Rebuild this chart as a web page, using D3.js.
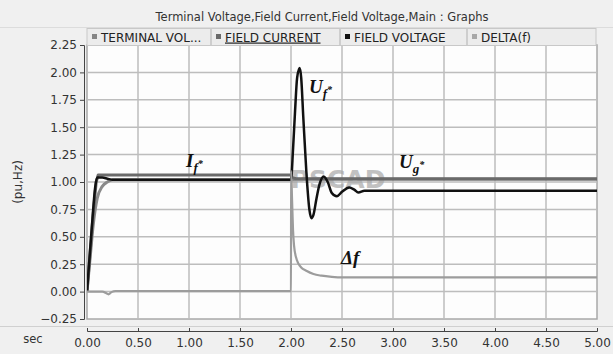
<!DOCTYPE html>
<html><head><meta charset="utf-8">
<script src="https://cdn.jsdelivr.net/npm/d3@7"></script>
<style>body{margin:0;background:#f0f0f0;}svg{display:block;}</style>
</head><body>
<script>
// ---- data ----
const title = "Terminal Voltage,Field Current,Field Voltage,Main : Graphs";
const legendNames = ["TERMINAL VOL...", "FIELD CURRENT", "FIELD VOLTAGE", "DELTA(f)"];
const xTicks = [0,0.5,1,1.5,2,2.5,3,3.5,4,4.5,5];
const yTicks = [-0.25,0,0.25,0.5,0.75,1,1.25,1.5,1.75,2,2.25];

const termT = [0, 0.03, 0.06, 0.1, 0.15, 0.2, 0.25, 2.0, 2.05, 5.0];
const termV = [0, 0.3, 0.6, 0.85, 0.96, 1.0, 1.02, 1.02, 1.025, 1.025];

const curT = [0, 0.03, 0.06, 0.09, 0.11, 2.0, 2.01, 2.05, 5.0];
const curV = [0, 0.35, 0.7, 1.0, 1.065, 1.065, 1.04, 1.03, 1.03];

const fvT = [0, 0.02, 0.05, 0.08, 0.1, 0.15, 0.2, 0.25, 2.0, 2.02, 2.04, 2.06, 2.085, 2.1, 2.12, 2.15, 2.18, 2.2, 2.22, 2.25, 2.28, 2.32, 2.36, 2.4, 2.45, 2.5, 2.57, 2.62, 2.66, 2.72, 2.8, 3.0, 5.0];
const fvV = [0, 0.25, 0.62, 0.95, 1.04, 1.04, 1.03, 1.02, 1.02, 1.3, 1.65, 1.95, 2.04, 1.95, 1.6, 1.1, 0.75, 0.67, 0.7, 0.85, 0.98, 1.05, 1.0, 0.9, 0.87, 0.91, 0.95, 0.93, 0.905, 0.92, 0.92, 0.92, 0.92];

const dfT = [0, 0.15, 0.19, 0.21, 0.24, 0.28, 2.0, 2.001, 2.01, 2.02, 2.03, 2.05, 2.07, 2.1, 2.15, 2.22, 2.3, 2.4, 2.5, 5.0];
const dfV = [0, 0, -0.015, -0.025, -0.005, 0.005, 0.005, 1.1, 0.85, 0.56, 0.42, 0.31, 0.26, 0.22, 0.19, 0.16, 0.145, 0.135, 0.13, 0.13];

// ---- layout ----
const W = 613, H = 354;
const svg = d3.select("body").append("svg").attr("width", W).attr("height", H);
const x = d3.scaleLinear().domain([0,5]).range([87,597]);
const y = d3.scaleLinear().domain([-0.25,2.25]).range([319,45]);
const font = "DejaVu Sans, Verdana, sans-serif";

svg.append("rect").attr("width",W).attr("height",H).attr("fill","#f0f0f0");

// title
svg.append("text").attr("x",322).attr("y",21).attr("text-anchor","middle")
  .attr("font-family",font).attr("font-size",11.5).attr("fill","#333").text(title);
svg.append("line").attr("x1",0).attr("x2",W).attr("y1",27.5).attr("y2",27.5).attr("stroke","#dcdcdc");

// plot background
svg.append("rect").attr("x",x(0)).attr("y",y(2.25)).attr("width",x(5)-x(0)).attr("height",y(-0.25)-y(2.25))
  .attr("fill","#fdfdfd").attr("stroke","#a8a8a8").attr("stroke-width",1.5);

// grid
const g = svg.append("g");
g.selectAll(".vg").data(xTicks.slice(1,-1)).join("line")
  .attr("x1",d=>x(d)).attr("x2",d=>x(d)).attr("y1",y(2.25)).attr("y2",y(-0.25))
  .attr("stroke","#bdbdbd").attr("stroke-width",1.5);
g.selectAll(".hg").data(yTicks.slice(1,-1)).join("line")
  .attr("x1",x(0)).attr("x2",x(5)).attr("y1",d=>y(d)).attr("y2",d=>y(d))
  .attr("stroke","#bdbdbd").attr("stroke-width",1.5);

// legend bar
const legX = [87, 211, 340, 467, 596];
const legColors = ["#858585", "#6a6a6a", "#111111", "#a8a8a8"];
svg.append("rect").attr("x",87).attr("y",28.5).attr("width",509).attr("height",17)
  .attr("fill","#ececec").attr("stroke","#c8c8c8");
legendNames.forEach((n,i)=>{
  const lx = legX[i];
  if (i>0) svg.append("line").attr("x1",lx).attr("x2",lx).attr("y1",29).attr("y2",45).attr("stroke","#b0b0b0");
  svg.append("rect").attr("x",lx+5).attr("y",34).attr("width",5).attr("height",5).attr("fill",legColors[i]);
  const t = svg.append("text").attr("x",lx+14).attr("y",41.5).attr("font-family",font).attr("font-size",12)
    .attr("fill","#222").text(n);
  if (i===1) t.attr("text-decoration","underline");
});

// y axis
const yAxis = d3.axisLeft(y).tickValues(yTicks).tickFormat(d3.format(".2f")).tickSize(4).tickSizeOuter(4);
const ya = svg.append("g").attr("transform","translate(84,0)").call(yAxis);
ya.selectAll("text").attr("font-family",font).attr("font-size",12).attr("fill","#333");
ya.selectAll("line,path").attr("stroke","#444");
svg.append("text").attr("transform","translate(22,182) rotate(-90)").attr("text-anchor","middle")
  .attr("font-family",font).attr("font-size",12).attr("fill","#333").text("(pu,Hz)");

// x axis band
svg.append("line").attr("x1",0).attr("x2",W).attr("y1",326.5).attr("y2",326.5).attr("stroke","#d0d0d0");
const xAxis = d3.axisTop(x).tickValues(xTicks).tickFormat(d3.format(".2f")).tickSize(3).tickSizeOuter(3);
const xa = svg.append("g").attr("transform","translate(0,331)").call(xAxis);
xa.selectAll("text").attr("font-family",font).attr("font-size",12).attr("fill","#333").attr("dy",0)
  .attr("y",16);
xa.selectAll("line,path").attr("stroke","#444");
svg.append("text").attr("x",33).attr("y",343).attr("text-anchor","middle")
  .attr("font-family",font).attr("font-size",11.5).attr("fill","#333").text("sec");

// clip
svg.append("clipPath").attr("id","clip").append("rect")
  .attr("x",x(0)).attr("y",y(2.25)).attr("width",x(5)-x(0)).attr("height",y(-0.25)-y(2.25));

// watermark
svg.append("text").attr("x",338).attr("y",188).attr("text-anchor","middle")
  .attr("font-family",font).attr("font-weight","bold").attr("font-size",25)
  .attr("fill","#a8a8a8").attr("opacity",0.7).text("PSCAD");

// series
function draw(ts, vs, color, width, curve){
  const data = ts.map((t,i)=>[t, vs[i]]);
  svg.append("path").datum(data).attr("clip-path","url(#clip)")
    .attr("d", d3.line().x(d=>x(d[0])).y(d=>y(d[1])).curve(curve))
    .attr("fill","none").attr("stroke",color).attr("stroke-width",width).attr("stroke-linejoin","round");
}
draw(termT, termV, "#8a8a8a", 3, d3.curveMonotoneX);
draw(curT, curV, "#6a6a6a", 3, d3.curveLinear);
draw(fvT, fvV, "#111111", 2.5, d3.curveMonotoneX);
draw(dfT, dfV, "#9c9c9c", 2.2, d3.curveMonotoneX);

// annotations
function lab(px, py, main, sub, sup){
  const t = svg.append("text").attr("x",px).attr("y",py)
    .attr("font-family","Liberation Serif, Times New Roman, serif").attr("font-style","italic")
    .attr("font-weight","bold").attr("font-size",19).attr("fill","#111");
  t.append("tspan").text(main);
  if (sub) t.append("tspan").attr("font-size",13).attr("dy",5).text(sub);
  if (sup) t.append("tspan").attr("font-size",10).attr("dy",-5).text(sup);
}
lab(186, 167, "I", "f", "*");
lab(309, 93, "U", "f", "*");
lab(399, 168, "U", "g", "*");
lab(341, 264, "\u0394f", null, null);
</script>
</body></html>
